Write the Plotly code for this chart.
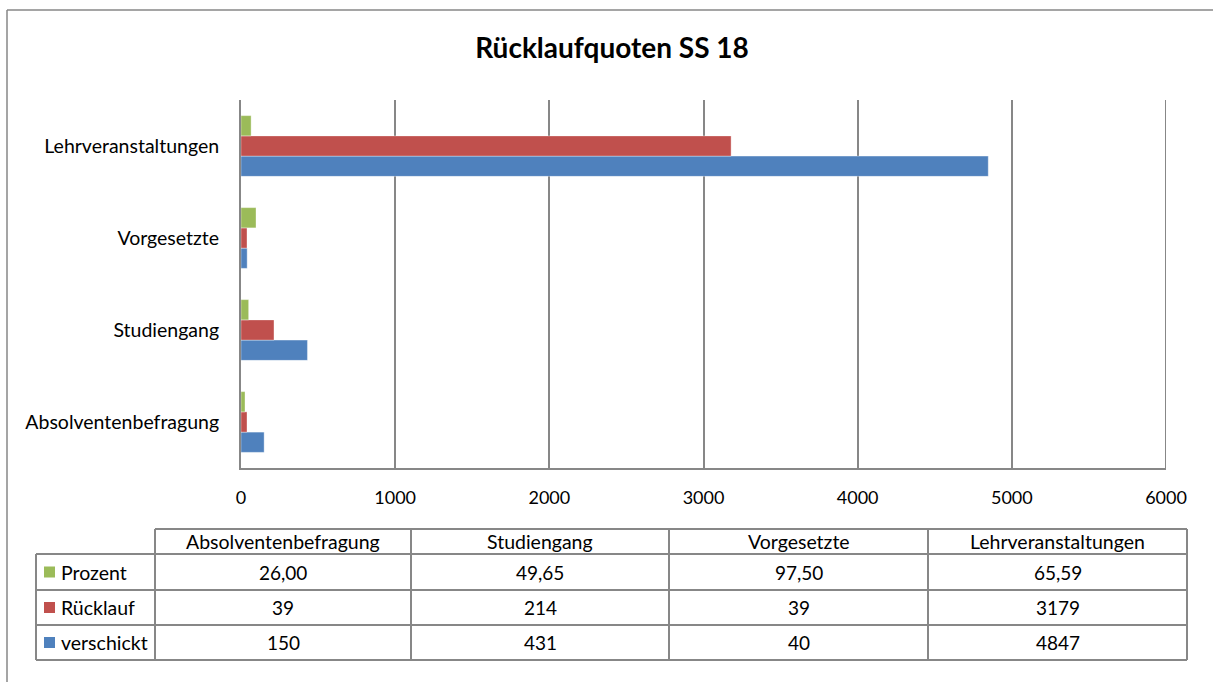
import plotly.graph_objects as go

# Survey return rates, summer semester 2018
categories = ["Absolventenbefragung", "Studiengang", "Vorgesetzte", "Lehrveranstaltungen"]
prozent = [26.00, 49.65, 97.50, 65.59]
ruecklauf = [39, 214, 39, 3179]
verschickt = [150, 431, 40, 4847]

colors = {"Prozent": "#9BBB59", "Rücklauf": "#C0504D", "verschickt": "#4F81BD"}

W, H = 1213, 682
FONT = "Lato"
GRID = "#878787"
LABEL_SIZE = 19.5
NUM_SIZE = 18
X_MAX = 6000


def fx(x):
    return x / W


def fy(y):
    return 1 - y / H


fig = go.Figure()
# grouped horizontal bars: first trace sits lowest inside each group
for name, vals in [("verschickt", verschickt), ("Rücklauf", ruecklauf), ("Prozent", prozent)]:
    fig.add_trace(go.Bar(
        y=categories, x=vals, name=name, orientation="h",
        marker=dict(color=colors[name], line=dict(color="rgba(255,255,255,0.6)", width=0.6)),
        hoverinfo="x+y+name",
    ))

shapes = []
annotations = []

# closing gridline at the right end of the value axis
shapes.append(dict(type="line", xref="x", yref="paper", x0=X_MAX, x1=X_MAX, y0=fy(468), y1=fy(100),
                   line=dict(color=GRID, width=2), layer="below"))

# outer chart frame (top and left edges)
shapes.append(dict(type="line", xref="paper", yref="paper", x0=fx(7), x1=fx(1213), y0=fy(10), y1=fy(10),
                   line=dict(color=GRID, width=1.5)))
shapes.append(dict(type="line", xref="paper", yref="paper", x0=fx(7), x1=fx(7), y0=fy(10), y1=fy(682),
                   line=dict(color=GRID, width=1.5)))

# data table below the plot
col_edges = [155, 411, 669, 928, 1187]
row_edges = [554, 590, 625, 660]
header_top = 529
legend_left = 36
tline = dict(color=GRID, width=2)

# header row frame (data columns only)
shapes.append(dict(type="line", xref="paper", yref="paper", x0=fx(col_edges[0]), x1=fx(col_edges[-1]),
                   y0=fy(header_top), y1=fy(header_top), line=tline))
for yy in row_edges:
    shapes.append(dict(type="line", xref="paper", yref="paper", x0=fx(legend_left), x1=fx(col_edges[-1]),
                       y0=fy(yy), y1=fy(yy), line=tline))
for xx in col_edges:
    shapes.append(dict(type="line", xref="paper", yref="paper", x0=fx(xx), x1=fx(xx),
                       y0=fy(header_top), y1=fy(row_edges[-1]), line=tline))
shapes.append(dict(type="line", xref="paper", yref="paper", x0=fx(legend_left), x1=fx(legend_left),
                   y0=fy(row_edges[0]), y1=fy(row_edges[-1]), line=tline))

tfont = dict(family=FONT, size=LABEL_SIZE, color="#000000")
nfont = dict(family=FONT, size=NUM_SIZE + 1, color="#000000")

# column headers
for i, cat in enumerate(categories):
    cx = (col_edges[i] + col_edges[i + 1]) / 2
    annotations.append(dict(x=fx(cx), y=fy((header_top + row_edges[0]) / 2), xref="paper", yref="paper",
                            text=cat, showarrow=False, font=tfont, xanchor="center", yanchor="middle"))

table_rows = [
    ("Prozent", [f"{v:.2f}".replace(".", ",") for v in prozent]),
    ("Rücklauf", [str(v) for v in ruecklauf]),
    ("verschickt", [str(v) for v in verschickt]),
]
for r, (name, texts) in enumerate(table_rows):
    cy = (row_edges[r] + row_edges[r + 1]) / 2
    # legend key swatch
    shapes.append(dict(type="rect", xref="paper", yref="paper", x0=fx(44), x1=fx(55),
                       y0=fy(cy - 5.5), y1=fy(cy + 5.5), fillcolor=colors[name], line=dict(width=0)))
    annotations.append(dict(x=fx(59), y=fy(cy), xref="paper", yref="paper", text=name, showarrow=False,
                            font=tfont, xanchor="left", yanchor="middle"))
    for i, t in enumerate(texts):
        cx = (col_edges[i] + col_edges[i + 1]) / 2
        annotations.append(dict(x=fx(cx), y=fy(cy), xref="paper", yref="paper", text=t, showarrow=False,
                                font=nfont, xanchor="center", yanchor="middle"))

fig.update_layout(
    width=W, height=H, autosize=False,
    margin=dict(l=0, r=0, t=0, b=0, pad=0, autoexpand=False),
    paper_bgcolor="white", plot_bgcolor="white",
    title=dict(text="<b>Rücklaufquoten SS 18</b>", xref="paper", x=fx(612), xanchor="center",
               yref="paper", y=fy(48), yanchor="middle",
               font=dict(family=FONT, size=28, color="#000000"), automargin=False),
    barmode="group", bargap=0.34, bargroupgap=0,
    showlegend=False,
    shapes=shapes, annotations=annotations,
    font=dict(family=FONT, color="#000000"),
    xaxis=dict(domain=[fx(241), fx(1166)], range=[0, X_MAX], dtick=1000, tick0=0,
               showgrid=True, gridcolor=GRID, gridwidth=2, zeroline=False,
               showline=True, linecolor=GRID, linewidth=2, automargin=False,
               ticks="", ticklabelstandoff=12, tickfont=dict(family=FONT, size=NUM_SIZE, color="#000000"),
               fixedrange=True),
    yaxis=dict(domain=[fy(468), fy(100)], categoryorder="array", categoryarray=categories,
               showgrid=False, zeroline=False, showline=True, linecolor=GRID, linewidth=2,
               automargin=False,
               ticks="", ticklabelstandoff=16, tickfont=dict(family=FONT, size=LABEL_SIZE, color="#000000"),
               fixedrange=True),
)

fig.write_html("out.html")
